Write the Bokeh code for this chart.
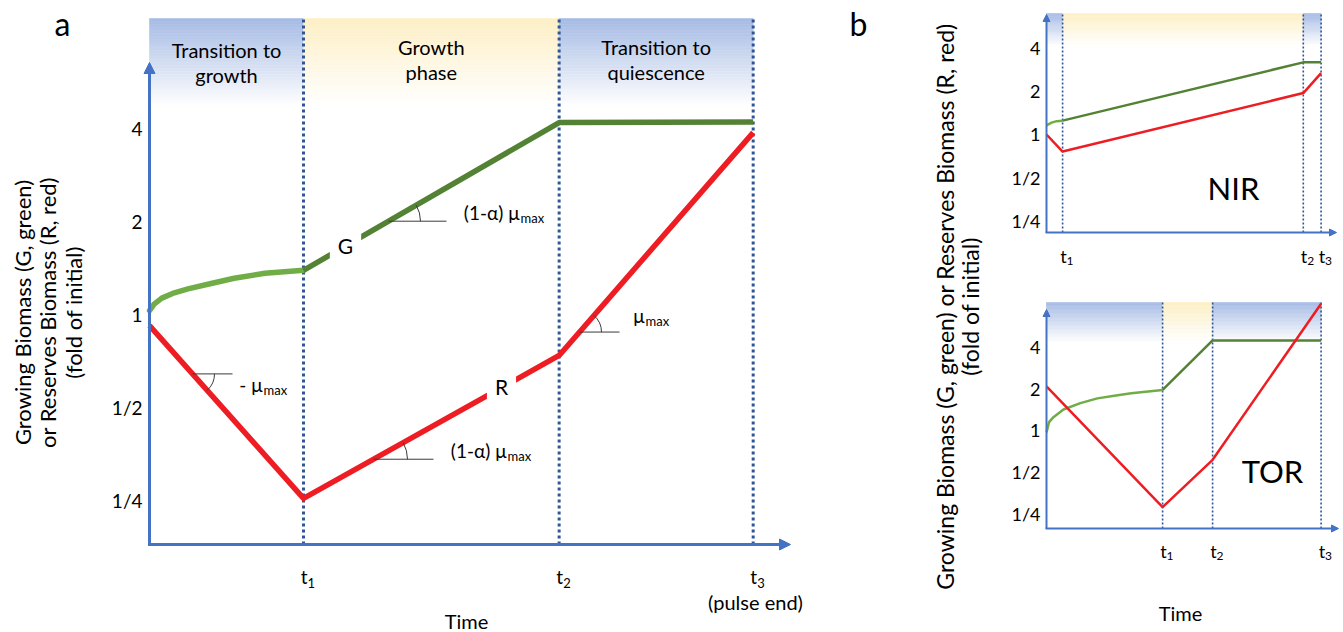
import numpy as np
from bokeh.plotting import figure
from bokeh.layouts import row, column
from bokeh.models import Label, Arrow, NormalHead, ColumnDataSource
from bokeh.embed import file_html
from bokeh.resources import INLINE
from bokeh.core.properties import value

FONT = "Lato"
AXIS_BLUE = "#4472C4"
DOT_BLUE = "#2F5597"
RED = "#EE1D23"
DK_GREEN = "#548235"
LT_GREEN = "#70AD47"
SHADE = {"transition": (166, 187, 228), "growth": (253, 239, 197)}

# ---------------- data (fold of initial vs time) ----------------
y_ticks = [0.25, 0.5, 1.0, 2.0, 4.0]
y_tick_labels = ["1/4", "1/2", "1", "2", "4"]
t_tick_base = ["t", "t", "t"]
t_tick_sub = ["1", "2", "3"]
phase_kinds = ["transition", "growth", "transition"]
phase_titles = [("Transition to", "growth"), ("Growth", "phase"), ("Transition to", "quiescence")]

# panel a
a_bounds = [0.0, 1.0, 2.66, 3.92]
a_g_curve_t = [0.0, 0.03, 0.08, 0.15, 0.25, 0.4, 0.55, 0.75, 1.0]
a_g_curve_v = [1.03, 1.08, 1.13, 1.17, 1.21, 1.26, 1.31, 1.36, 1.39]
a_g_lin_t = [1.0, 2.66, 3.92]
a_g_lin_v = [1.39, 4.18, 4.2]
a_r_t = [0.0, 1.0, 2.66, 3.92]
a_r_v = [0.92, 0.254, 0.737, 3.88]

# panel b, NIR
nir_bounds = [0.0, 0.95, 15.15, 16.2]
nir_g_curve_t = [0.0, 0.3, 0.6, 0.95]
nir_g_curve_v = [1.16, 1.21, 1.24, 1.25]
nir_g_lin_t = [0.95, 15.15, 16.2]
nir_g_lin_v = [1.25, 3.2, 3.2]
nir_r_t = [0.0, 0.95, 15.15, 16.2]
nir_r_v = [1.0, 0.76, 1.95, 2.69]

# panel b, TOR
tor_bounds = [0.0, 6.85, 9.8, 16.2]
tor_g_curve_t = [0.0, 0.15, 0.41, 1.0, 2.0, 3.0, 4.0, 5.0, 6.85]
tor_g_curve_v = [0.97, 1.15, 1.25, 1.42, 1.58, 1.71, 1.79, 1.86, 1.97]
tor_g_lin_t = [6.85, 9.8, 16.2]
tor_g_lin_v = [1.97, 4.5, 4.5]
tor_r_t = [0.0, 6.85, 9.8, 16.2]
tor_r_v = [2.09, 0.278, 0.613, 8.3]

# ---------------- layout calibration (page pixels) ----------------
PA = dict(t0=149, ppt=154.0, one=314, ppd=93.0, top=18, floor=544, xend=790, ytip=62, band=88,
          fig=(0, 0, 990, 632), ylab_x=142, tlab_y=576, sub_dy=6, tick_size=19, sub_size=13)
PN = dict(t0=1046, ppt=16.95, one=134, ppd=43.0, top=13, floor=232, xend=1336, ytip=14, band=33,
          fig=(990, 0, 353, 290), ylab_x=1040, tlab_y=255, sub_dy=5, tick_size=18, sub_size=12)
PT = dict(t0=1046, ppt=16.95, one=430, ppd=41.5, top=302, floor=528, xend=1338, ytip=309, band=40,
          fig=(990, 290, 353, 342), ylab_x=1040, tlab_y=550, sub_dy=5, tick_size=18, sub_size=12)


def tx(P, px):
    return (px - P["t0"]) / P["ppt"]


def vy(P, py):
    return 2 ** ((P["one"] - py) / P["ppd"])


def shade_color(rgb, f):
    r, g, b = [int(round(c + (255 - c) * f)) for c in rgb]
    return "#%02x%02x%02x" % (r, g, b)


def make_panel(P, bounds):
    fl, ft, fw, fh = P["fig"]
    p = figure(width=fw, height=fh,
               x_range=(tx(P, fl), tx(P, fl + fw)),
               y_range=(vy(P, ft + fh), vy(P, ft)),
               y_axis_type="log", output_backend="svg", toolbar_location=None,
               min_border=0)
    p.title = None
    p.outline_line_color = None
    p.grid.visible = False
    p.xaxis.visible = False
    p.yaxis.visible = False
    p.background_fill_color = "white"
    p.border_fill_color = "white"

    # gradient bands at the top of each phase
    top_log = np.log2(vy(P, P["top"]))
    dbl = P["band"] / P["ppd"]
    n = 30
    L, R, T, B, C = [], [], [], [], []
    for i in range(n):
        t_ = 2 ** (top_log - dbl * i / n)
        b_ = 2 ** (top_log - dbl * (i + 1) / n)
        f = (i + 0.5) / n
        for k, kind in enumerate(phase_kinds):
            L.append(bounds[k]); R.append(bounds[k + 1]); T.append(t_); B.append(b_)
            C.append(shade_color(SHADE[kind], f))
    src = ColumnDataSource(dict(left=L, right=R, top=T, bottom=B, color=C))
    p.quad(left="left", right="right", top="top", bottom="bottom", fill_color="color",
           line_color="color", line_width=0.6, source=src)

    # tick labels from the tick arrays, placed through the scales
    n_y = len(y_ticks)
    p.text(x=[tx(P, P["ylab_x"])] * n_y, y=y_ticks, text=y_tick_labels, text_align="right",
           text_baseline="middle", text_font=value(FONT), text_font_size="%dpx" % P["tick_size"],
           text_color="black")
    xs = bounds[1:]
    off = 4.0 / P["ppt"]
    p.text(x=[x + off for x in xs], y=[vy(P, P["tlab_y"])] * len(xs), text=t_tick_base, text_align="right",
           text_baseline="middle", text_font=value(FONT), text_font_size="%dpx" % P["tick_size"],
           text_color="black")
    p.text(x=[x + off for x in xs], y=[vy(P, P["tlab_y"] + P["sub_dy"])] * len(xs), text=t_tick_sub,
           text_align="left", text_baseline="middle", text_font=value(FONT),
           text_font_size="%dpx" % P["sub_size"], text_color="black")
    return p


def add_axes(p, P, width, head):
    floor = vy(P, P["floor"])
    p.add_layout(Arrow(end=NormalHead(size=head, fill_color=AXIS_BLUE, line_color=AXIS_BLUE),
                       x_start=tx(P, P["t0"] - width / 2), y_start=floor, x_end=tx(P, P["xend"]), y_end=floor,
                       line_color=AXIS_BLUE, line_width=width))
    p.add_layout(Arrow(end=NormalHead(size=head, fill_color=AXIS_BLUE, line_color=AXIS_BLUE),
                       x_start=0.0, y_start=floor, x_end=0.0, y_end=vy(P, P["ytip"]),
                       line_color=AXIS_BLUE, line_width=width))


def add_dotted(p, P, bounds, width, dash):
    xs = bounds[1:]
    p.segment(x0=xs, x1=xs, y0=[vy(P, P["floor"])] * len(xs), y1=[vy(P, P["top"])] * len(xs),
              line_color=DOT_BLUE, line_width=width, line_dash=dash)


def put(p, P, px, py, text, size, align="center", baseline="middle", angle=0.0, **kw):
    fl, ft, fw, fh = P["fig"]
    p.add_layout(Label(x=px - fl, y=ft + fh - py, x_units="screen", y_units="screen",
                       text=text, text_font=FONT, text_font_size="%dpx" % size, text_align=align,
                       text_baseline=baseline, angle=angle, text_color="black", **kw))


def slope_mark(p, P, seg_t, seg_v, anchor_px, len_px, radius):
    (ta, tb), (va, vb) = seg_t, seg_v
    la, lb = np.log2(va), np.log2(vb)
    t_a = tx(P, anchor_px)
    v_a = 2 ** (la + (t_a - ta) / (tb - ta) * (lb - la))
    p.line([t_a, tx(P, anchor_px + len_px)], [v_a, v_a], line_color="#3a3a3a", line_width=1)
    ang = float(np.arctan2((lb - la) * P["ppd"], (tb - ta) * P["ppt"]))
    s, e = (ang, 0.0) if ang < 0 else (0.0, ang)
    p.arc(x=[t_a], y=[v_a], radius=radius, radius_units="screen", start_angle=s, end_angle=e,
          line_color="#3a3a3a", line_width=1)


# ---------------- panel a ----------------
pa = make_panel(PA, a_bounds)
add_dotted(pa, PA, a_bounds, 3, "3 3")
pa.line(a_g_curve_t, a_g_curve_v, line_color=LT_GREEN, line_width=5.5, line_cap="round")
pa.line(a_g_lin_t, a_g_lin_v, line_color=DK_GREEN, line_width=5.5, line_join="round")
pa.line(a_r_t, a_r_v, line_color=RED, line_width=5.5, line_join="round")
add_axes(pa, PA, 3, 11)

slope_mark(pa, PA, a_r_t[0:2], a_r_v[0:2], 192, 40, 22)
slope_mark(pa, PA, a_g_lin_t[0:2], a_g_lin_v[0:2], 388, 58, 32)
slope_mark(pa, PA, a_r_t[1:3], a_r_v[1:3], 373, 60, 34)
slope_mark(pa, PA, a_r_t[2:4], a_r_v[2:4], 579, 40, 22)

for k, (l1, l2) in enumerate(phase_titles):
    cx = PA["t0"] + PA["ppt"] * (a_bounds[k] + a_bounds[k + 1]) / 2
    put(pa, PA, cx, 49 if k == 0 else 46, l1, 20)
    put(pa, PA, cx, 74 if k == 0 else 71, l2, 20)

put(pa, PA, 345, 245, "G", 21, background_fill_color="white", padding=8)
put(pa, PA, 501, 386, "R", 21, background_fill_color="white", padding=8)

for (ax_, ay_, main) in [(519, 212, "(1-\u03b1) \u03bc"), (506, 450, "(1-\u03b1) \u03bc"),
                         (644, 315, "\u03bc"), (262, 384, "- \u03bc")]:
    put(pa, PA, ax_, ay_, main, 19, align="right")
    put(pa, PA, ax_ + 1, ay_ + 5, "max", 13, align="left")

put(pa, PA, 755, 601, "(pulse end)", 20)
put(pa, PA, 466, 620, "Time", 20)
put(pa, PA, 62, 23, "a", 32)
put(pa, PA, 858, 23, "b", 32)

ylab = ["Growing Biomass (G, green)", "or Reserves Biomass (R, red)", "(fold of initial)"]
for xc, s in zip([22, 47, 73], ylab):
    put(pa, PA, xc, 312, s, 22, angle=np.pi / 2)
for xc, s in zip([944, 969], ["Growing Biomass (G, green) or Reserves Biomass (R, red)", "(fold of initial)"]):
    put(pa, PA, xc, 306, s, 23, angle=np.pi / 2)

# ---------------- panel b: NIR ----------------
pn = make_panel(PN, nir_bounds)
add_dotted(pn, PN, nir_bounds, 1.6, "2 2")
pn.line(nir_g_curve_t, nir_g_curve_v, line_color=LT_GREEN, line_width=2.5)
pn.line(nir_g_lin_t, nir_g_lin_v, line_color=DK_GREEN, line_width=2.5)
pn.line(nir_r_t, nir_r_v, line_color=RED, line_width=2.5)
add_axes(pn, PN, 2, 7)
put(pn, PN, 1233, 187, "NIR", 31)

# ---------------- panel b: TOR ----------------
pt = make_panel(PT, tor_bounds)
add_dotted(pt, PT, tor_bounds, 1.6, "2 2")
pt.line(tor_g_curve_t, tor_g_curve_v, line_color=LT_GREEN, line_width=2.5)
pt.line(tor_g_lin_t, tor_g_lin_v, line_color=DK_GREEN, line_width=2.5)
pt.line(tor_r_t, tor_r_v, line_color=RED, line_width=2.5)
add_axes(pt, PT, 2, 7)
put(pt, PT, 1272, 470, "TOR", 31)
put(pt, PT, 1180, 612, "Time", 20)

layout = row(pa, column(pn, pt, spacing=0), spacing=0)
open("out.html", "w").write(file_html(layout, INLINE))
